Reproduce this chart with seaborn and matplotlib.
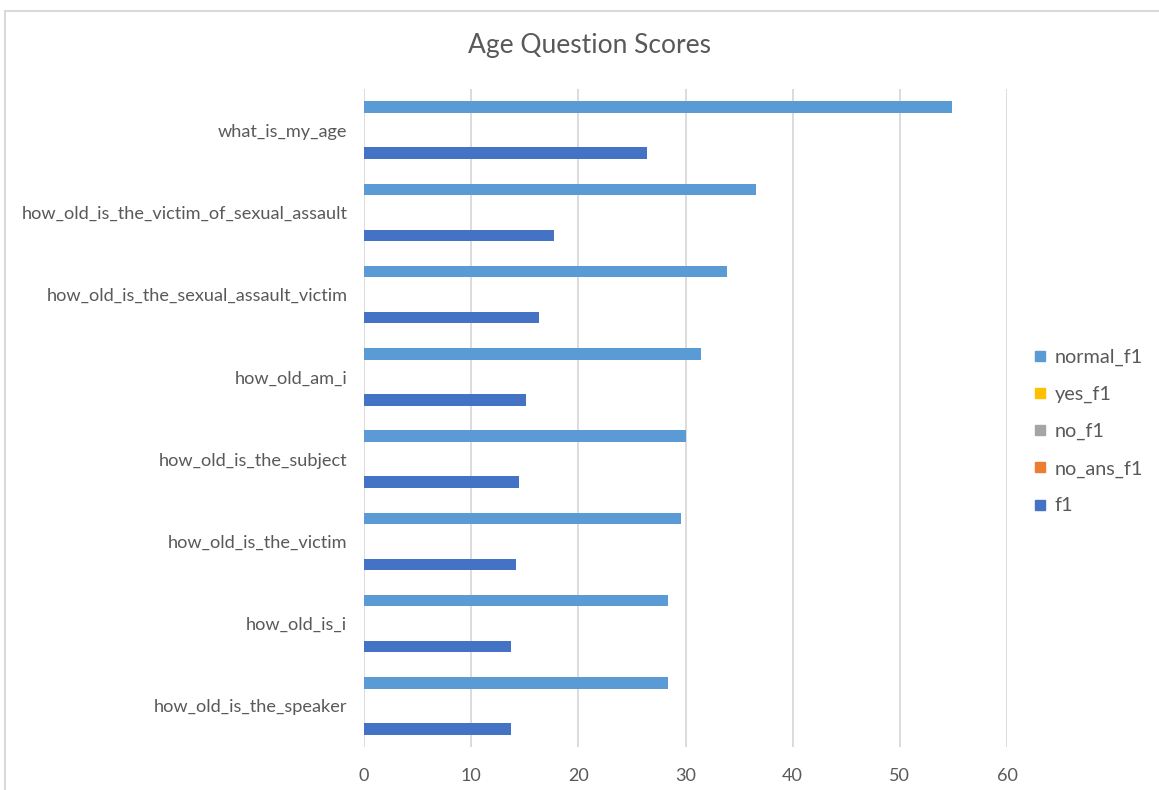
import matplotlib
matplotlib.use("Agg")
import matplotlib.pyplot as plt
from matplotlib.lines import Line2D
import seaborn as sns
import pandas as pd

# Questions, listed top to bottom
questions = [
    "what_is_my_age",
    "how_old_is_the_victim_of_sexual_assault",
    "how_old_is_the_sexual_assault_victim",
    "how_old_am_i",
    "how_old_is_the_subject",
    "how_old_is_the_victim",
    "how_old_is_i",
    "how_old_is_the_speaker",
]

series_names = ["normal_f1", "yes_f1", "no_f1", "no_ans_f1", "f1"]

normal_f1 = [54.9, 36.6, 33.9, 31.4, 30.0, 29.6, 28.4, 28.4]
yes_f1 = [0, 0, 0, 0, 0, 0, 0, 0]
no_f1 = [0, 0, 0, 0, 0, 0, 0, 0]
no_ans_f1 = [0, 0, 0, 0, 0, 0, 0, 0]
f1 = [26.4, 17.7, 16.3, 15.1, 14.5, 14.2, 13.7, 13.7]

x_ticks = [0, 10, 20, 30, 40, 50, 60]

colors = {
    "normal_f1": "#5B9BD5",
    "yes_f1": "#FFC000",
    "no_f1": "#A5A5A5",
    "no_ans_f1": "#ED7D31",
    "f1": "#4472C4",
}

values = {
    "normal_f1": normal_f1,
    "yes_f1": yes_f1,
    "no_f1": no_f1,
    "no_ans_f1": no_ans_f1,
    "f1": f1,
}

rows = []
for name in series_names:
    for q, v in zip(questions, values[name]):
        rows.append({"question": q, "metric": name, "score": v})
df = pd.DataFrame(rows)

sns.set_theme(style="white")
plt.rcParams["font.family"] = ["Lato", "DejaVu Sans"]

text_color = "#595959"
grid_color = "#D9D9D9"

fig = plt.figure(figsize=(11.59, 7.90), dpi=100)
ax = fig.add_axes([364 / 1159, 1 - 747 / 790, (1007 - 364) / 1159, (747 - 89) / 790])

sns.barplot(
    data=df, x="score", y="question", hue="metric",
    order=questions, hue_order=series_names, palette=colors,
    orient="h", width=0.7, errorbar=None, ax=ax, legend=False,
    edgecolor="none", linewidth=0, saturation=1,
)

ax.set_xlim(0, 60)
ax.set_xticks(x_ticks)
ax.set_xticklabels([str(t) for t in x_ticks])
ax.set_xlabel("")
ax.set_ylabel("")
for s in ax.spines.values():
    s.set_visible(False)
ax.grid(False)
for t in x_ticks:
    ax.axvline(t, color=grid_color, linewidth=1.3, zorder=0)
ax.set_axisbelow(True)
ax.tick_params(axis="both", length=0, colors=text_color)
ax.tick_params(axis="y", pad=12, labelsize=13.1)
ax.tick_params(axis="x", pad=15, labelsize=13)

fig.text(590 / 1159, 1 - 45 / 790, "Age Question Scores", ha="center", va="center",
         fontsize=19, color=text_color)

handles = [Line2D([0], [0], marker="s", linestyle="none", markersize=7,
                  markerfacecolor=colors[n], markeredgecolor=colors[n]) for n in series_names]
fig.legend(handles, series_names, loc="upper left",
           bbox_to_anchor=(1025 / 1159, 1 - 341 / 790), frameon=False,
           fontsize=14.3, labelcolor=text_color, labelspacing=1.0,
           handlelength=0.7, handletextpad=0.4, borderaxespad=0)

# light chart-area frame along the top and left edges
fig.add_artist(Line2D([5 / 1159, 1.0], [1 - 10.5 / 790, 1 - 10.5 / 790],
                      transform=fig.transFigure, color=grid_color, linewidth=1.5))
fig.add_artist(Line2D([5 / 1159, 5 / 1159], [1 - 10.5 / 790, 0.0],
                      transform=fig.transFigure, color=grid_color, linewidth=1.5))

fig.savefig("out.png", dpi=100, facecolor="white")
